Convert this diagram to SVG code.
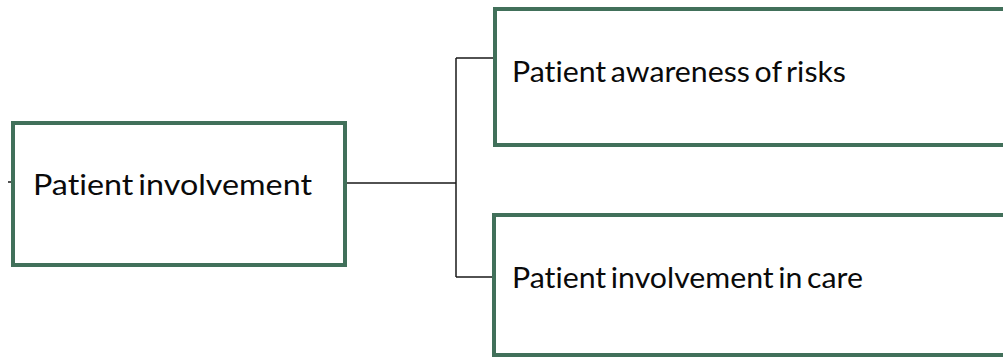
<svg xmlns="http://www.w3.org/2000/svg" width="1003" height="358" viewBox="0 0 1003 358">
<style>
.box{fill:#ffffff;stroke:#41705a;stroke-width:4}
.lbl{font-family:Lato,"Open Sans","Liberation Sans",sans-serif;font-size:29px;fill:#0a0a0a;word-spacing:-3px;font-variant-ligatures:none;font-feature-settings:"liga" 0,"clig" 0,"dlig" 0}
.con{fill:none;stroke:#1a1a1a;stroke-width:1.5}
</style>
<rect width="1003" height="358" fill="#ffffff"/>
<g id="connectors">
<path class="con" d="M345 183 H456 M456 58 V277 M456 58 H495 M456 277 H495"/>
<path class="con" d="M8 182 H12"/>
</g>
<g id="node-involvement">
<rect class="box" x="13" y="123" width="332" height="142"/>
<text class="lbl" x="33" y="195" textLength="279" lengthAdjust="spacingAndGlyphs">Patient involvement</text>
</g>
<g id="node-awareness">
<rect class="box" x="495" y="9" width="515" height="136"/>
<text class="lbl" x="512" y="82" textLength="334" lengthAdjust="spacingAndGlyphs">Patient awareness of risks</text>
</g>
<g id="node-care">
<rect class="box" x="494" y="215" width="516" height="140"/>
<text class="lbl" x="512" y="288" textLength="351" lengthAdjust="spacingAndGlyphs">Patient involvement in care</text>
</g>
</svg>
